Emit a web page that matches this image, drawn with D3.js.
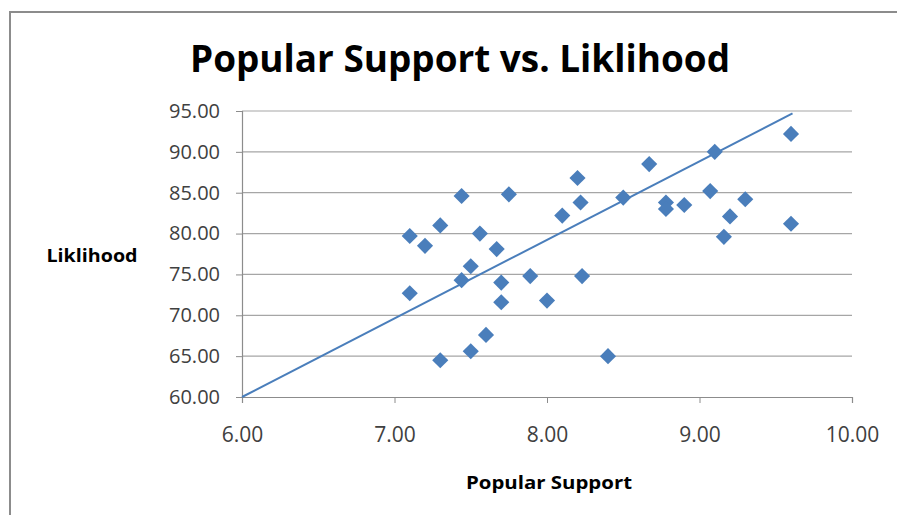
<!DOCTYPE html>
<html>
<head>
<meta charset="utf-8">
<script src="https://cdn.jsdelivr.net/npm/d3@7"></script>
<style>
  body { margin: 0; background: #fff; }
  text { font-family: "Open Sans", "DejaVu Sans", sans-serif; }
</style>
</head>
<body>
<div id="chart"></div>
<script>
// data
var support = [7.10, 7.20, 7.30, 7.44, 7.75, 8.20, 8.22, 8.10, 8.50, 7.56, 7.67, 7.50,
               7.44, 7.10, 7.70, 7.89, 8.23, 7.70, 8.00, 7.60, 7.50, 7.30, 8.40, 8.67,
               8.78, 8.78, 8.90, 9.10, 9.07, 9.30, 9.20, 9.16, 9.60, 9.60]
var likelihood = [79.7, 78.5, 81.0, 84.6, 84.8, 86.8, 83.8, 82.2, 84.4, 80.0, 78.1, 76.0,
                  74.3, 72.7, 74.0, 74.8, 74.8, 71.6, 71.8, 67.6, 65.6, 64.5, 65.0, 88.5,
                  83.8, 83.0, 83.5, 90.0, 85.2, 84.2, 82.1, 79.6, 92.2, 81.2]
var trend_x = [6.00, 9.61]
var trend_y = [60.0, 94.7]
var x_ticks = [6, 7, 8, 9, 10]
var y_ticks = [60, 65, 70, 75, 80, 85, 90, 95]

var points = []
for (i = 0; i < support.length; i++) {
  points.push({"x": support[i], "y": likelihood[i]})
}
var trend = trend_x.map((d, i) => ({"x": d, "y": trend_y[i]}))

var W = 897, H = 515
var svg = d3.select("#chart").append("svg")
  .attr("width", W)
  .attr("height", H)

// outer chart border
svg.append("rect")
  .attr("x", 10).attr("y", 12)
  .attr("width", W).attr("height", H)
  .attr("fill", "#fff")
  .attr("stroke", "#8c8c8c")
  .attr("stroke-width", 2)

var x = d3.scaleLinear().domain([6, 10]).range([242, 852])
var y = d3.scaleLinear().domain([60, 95]).range([397, 111])

// horizontal gridlines
svg.append("g")
  .selectAll("line")
  .data(y_ticks.slice(1))
  .enter().append("line")
    .attr("x1", x(6)).attr("x2", x(10))
    .attr("y1", d => y(d)).attr("y2", d => y(d))
    .attr("stroke", "#a6a6a6")
    .attr("stroke-width", 1.2)

// Y axis
var gy = svg.append("g")
  .attr("transform", "translate(" + x(6) + ",0)")
  .call(d3.axisLeft(y).tickValues(y_ticks).tickFormat(d3.format(".2f")).tickSize(6).tickPadding(16))
gy.select(".domain").attr("stroke", "#8c8c8c").attr("stroke-width", 1.2)
gy.selectAll(".tick line").attr("stroke", "#8c8c8c")
gy.selectAll(".tick text")
  .attr("font-size", 20)
  .attr("fill", "#404040")
  .attr("font-family", "Open Sans")

// X axis
var gx = svg.append("g")
  .attr("transform", "translate(0," + y(60) + ")")
  .call(d3.axisBottom(x).tickValues(x_ticks).tickFormat(d3.format(".2f")).tickSize(6).tickPadding(24))
gx.select(".domain").attr("stroke", "#8c8c8c").attr("stroke-width", 1.2)
gx.selectAll(".tick line").attr("stroke", "#8c8c8c")
gx.selectAll(".tick text")
  .attr("font-size", 21)
  .attr("fill", "#404040")
  .attr("font-family", "Open Sans")

// trend line
svg.append("path")
  .datum(trend)
  .attr("fill", "none")
  .attr("stroke", "#4a7ebb")
  .attr("stroke-width", 2)
  .attr("d", d3.line()
    .x(function(d) { return x(d.x) })
    .y(function(d) { return y(d.y) })
  )

// diamond markers
svg.append("g")
  .selectAll("path")
  .data(points)
  .enter().append("path")
    .attr("d", d3.symbol().type(d3.symbolSquare).size(130))
    .attr("transform", d => "translate(" + x(d.x) + "," + y(d.y) + ") rotate(45)")
    .attr("fill", "#4a7ebb")

// titles
svg.append("text")
  .attr("x", 460).attr("y", 72)
  .attr("text-anchor", "middle")
  .attr("font-size", 38)
  .attr("font-weight", "bold")
  .attr("textLength", 540)
  .attr("lengthAdjust", "spacingAndGlyphs")
  .attr("fill", "#000")
  .text("Popular Support vs. Liklihood")

svg.append("text")
  .attr("x", 92).attr("y", 262)
  .attr("text-anchor", "middle")
  .attr("font-size", 18)
  .attr("font-weight", "bold")
  .attr("textLength", 91)
  .attr("lengthAdjust", "spacingAndGlyphs")
  .attr("fill", "#000")
  .text("Liklihood")

svg.append("text")
  .attr("x", 549).attr("y", 489)
  .attr("text-anchor", "middle")
  .attr("font-size", 18)
  .attr("font-weight", "bold")
  .attr("textLength", 166)
  .attr("lengthAdjust", "spacingAndGlyphs")
  .attr("fill", "#000")
  .text("Popular Support")
</script>
</body>
</html>
